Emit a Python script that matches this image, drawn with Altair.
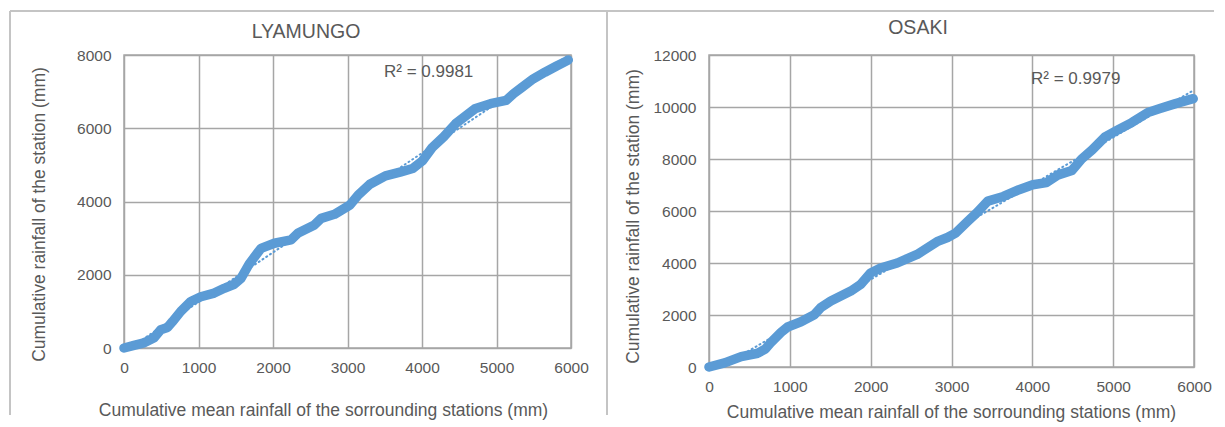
import altair as alt
import pandas as pd

# ---------------- data ----------------
ly_x = [0, 134, 269, 404, 493, 583, 650, 762, 897, 1031, 1211, 1345, 1480, 1570,
        1682, 1839, 2018, 2242, 2332, 2556, 2646, 2825, 3030, 3144, 3300, 3509,
        3718, 3875, 4005, 4136, 4292, 4449, 4580, 4710, 4919, 5128, 5232, 5337,
        5494, 5650, 5807, 5963]
ly_y = [0, 70, 140, 280, 500, 560, 720, 1000, 1270, 1400, 1500, 1630, 1740, 1900,
        2300, 2720, 2860, 2950, 3130, 3360, 3540, 3650, 3900, 4180, 4470, 4700,
        4810, 4900, 5110, 5470, 5770, 6120, 6330, 6530, 6670, 6760, 6950, 7110,
        7350, 7530, 7700, 7860]

os_x = [0, 193, 398, 604, 700, 768, 891, 973, 1138, 1302, 1384, 1507, 1754, 1877,
        2000, 2123, 2329, 2575, 2821, 2950, 3050, 3200, 3320, 3450, 3642, 3835,
        4005, 4174, 4320, 4490, 4610, 4740, 4900, 5046, 5230, 5430, 5579, 5772, 5990]
os_y = [0, 160, 400, 530, 700, 950, 1330, 1540, 1740, 2010, 2290, 2540, 2920, 3180,
        3620, 3810, 4000, 4330, 4820, 4980, 5150, 5600, 5950, 6380, 6560, 6820,
        7010, 7090, 7390, 7560, 8000, 8350, 8850, 9100, 9400, 9790, 9940, 10130, 10320]

x_ticks = [0, 1000, 2000, 3000, 4000, 5000, 6000]
ly_y_ticks = [0, 2000, 4000, 6000, 8000]
os_y_ticks = [0, 2000, 4000, 6000, 8000, 10000, 12000]

ly_title = "LYAMUNGO"
os_title = "OSAKI"
ly_r2 = "R² = 0.9981"
os_r2 = "R² = 0.9979"
x_title = "Cumulative mean rainfall of the sorrounding stations (mm)"
y_title = "Cumulative rainfall of the station (mm)"

# ---------------- styling ----------------
BLUE = "#5B9BD5"
TEXT = "#595959"
GRID = "#a6a6a6"
FRAME = "#c4c4c4"
FONT = "Liberation Sans"


def panel(xs, ys, yticks, ymax, title, tx, ty, width, height,
          ytx, yty, xtx, xty, r2, r2x, r2y, frames=None):
    df = pd.DataFrame({"x": xs, "y": ys})
    xenc = alt.X("x:Q", scale=alt.Scale(domain=[0, 6000], nice=False, zero=False),
                 axis=alt.Axis(values=x_ticks, title=x_title, titleX=xtx, titleY=xty,
                               titleAlign="center", titleBaseline="middle",
                               labelPadding=12, labelFlush=False, format="d"))
    yenc = alt.Y("y:Q", scale=alt.Scale(domain=[0, ymax], nice=False, zero=False),
                 axis=alt.Axis(values=yticks, title=y_title, titleX=ytx, titleY=yty,
                               titleAngle=270, titleAlign="center", titleBaseline="middle",
                               labelPadding=13, labelFlush=False, format="d"))
    base = alt.Chart(df)
    series = base.mark_line(color=BLUE, strokeWidth=9.5, strokeCap="round",
                            strokeJoin="round").encode(x=xenc, y=yenc)
    trend = base.transform_regression("x", "y", method="linear").mark_line(
        color=BLUE, strokeWidth=2, strokeDash=[1, 3.5], strokeCap="round", clip=True
    ).encode(x="x:Q", y="y:Q")
    label = alt.Chart(pd.DataFrame({"t": [r2]})).mark_text(
        align="left", baseline="middle", fontSize=17, color=TEXT, font=FONT
    ).encode(x=alt.datum(r2x), y=alt.datum(r2y), text="t:N")
    head = alt.Chart(pd.DataFrame({"t": [title]})).mark_text(
        align="center", baseline="alphabetic", fontSize=19.5, color=TEXT, font=FONT
    ).encode(x=alt.value(tx), y=alt.value(ty), text="t:N")
    layers = []
    if frames is not None:
        layers.extend(frames)
    layers.extend([series, trend, label, head])
    return alt.layer(*layers).properties(width=width, height=height)


dummy = pd.DataFrame({"k": [0]})
frame_top = alt.Chart(dummy).mark_rule(color=FRAME, strokeWidth=2).encode(
    x=alt.value(-114), x2=alt.value(1090), y=alt.value(-44))
frame_left = alt.Chart(dummy).mark_rule(color=FRAME, strokeWidth=2).encode(
    x=alt.value(-114), y=alt.value(-44), y2=alt.value(360))
frame_mid = alt.Chart(dummy).mark_rule(color=FRAME, strokeWidth=2).encode(
    x=alt.value(483), y=alt.value(-44), y2=alt.value(360))

left = panel(ly_x, ly_y, ly_y_ticks, 8000, ly_title, 182, -17, 447, 293,
             -85, 159, 199, 62, ly_r2, 3490, 7536,
             frames=[frame_top, frame_left, frame_mid])
right = panel(os_x, os_y, os_y_ticks, 12000, os_title, 209, -21, 485, 312,
              -76, 161, 242, 45, os_r2, 3984, 11060)

chart = alt.hconcat(left, right, spacing=138, bounds="flush").properties(
    padding={"left": 0, "top": 1, "right": 0, "bottom": 0}
).configure_view(
    stroke=GRID, strokeWidth=1.5
).configure_axis(
    grid=True, gridColor=GRID, gridWidth=1.5, domain=False, ticks=False,
    labelFont=FONT, labelFontSize=15.5, labelColor=TEXT,
    titleFont=FONT, titleFontSize=17.5, titleColor=TEXT, titleFontWeight="normal",
)

chart.save("out.html", embed_options={"renderer": "svg", "actions": False})
